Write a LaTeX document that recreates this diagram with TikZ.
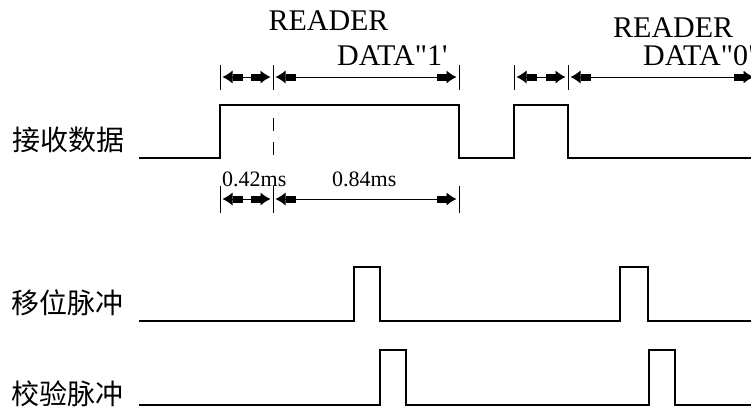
\documentclass[tikz,border=0pt]{standalone}
\usepackage{fontspec}
\setmainfont{Liberation Serif}[Ligatures=TeXOff]
\newfontfamily\cjk{Noto Sans CJK SC}
\usetikzlibrary{arrows.meta}
\begin{document}
\begin{tikzpicture}[x=1pt,y=-1pt,
  sig/.style={line width=1.4pt, line join=miter},
  tick/.style={line width=1pt},
  dimtip/.tip={Rectangle[length=10pt,width=7pt]Latex[length=10pt,width=13pt]},
  dimarr/.style={line width=0.9pt, dimtip-dimtip,
    shorten <=2.5pt, shorten >=2.5pt},
  lbl/.style={inner sep=0pt, anchor=base west, font=\cjk\fontsize{28}{30}\selectfont},
  big/.style={inner sep=0pt, font=\fontsize{30}{34}\selectfont},
  small/.style={inner sep=0pt, anchor=base west, font=\fontsize{22}{24}\selectfont}]
\useasboundingbox (0,0) rectangle (751,408);

% labels
\node[lbl] (l1) at (12,150) {接收数据};
\node[lbl] (l2) at (11,313) {移位脉冲};
\node[lbl] (l3) at (11,404) {校验脉冲};

% top texts
\node[big, anchor=base] (r1) at (328.5,30) {READER};
\node[big, anchor=base west] (d1) at (337,65) {DATA"1'};
\node[big, anchor=base west] (r2) at (613,37) {READER};
\node[big, anchor=base west] (d2) at (643,65) {DATA"0"};

% received data signal
\draw[sig] (139,158) -- (220,158) -- (220,105) -- (459,105) -- (459,158) -- (514,158)
  -- (514,105) -- (568,105) -- (568,158) -- (751,158);
% dashed marker
\draw[line width=1pt, dash pattern=on 13pt off 11pt] (273,118) -- (273,158);

% top dimension row
\foreach \x/\n in {220/ta,273/tb,459/tc,514/td,568/te}{
  \coordinate (\n1) at (\x,65); \coordinate (\n2) at (\x,90);
  \coordinate (\n) at (\x,77);
  \draw[tick] (\n1) -- (\n2);}
\coordinate (tf) at (756,77);
\draw[dimarr] (ta) -- (tb);
\draw[dimarr] (tb) -- (tc);
\draw[dimarr] (td) -- (te);
\draw[dimarr] (te) -- (tf);

% bottom dimension row
\foreach \x/\n in {220/ba,273/bb,459/bc}{
  \coordinate (\n1) at (\x,186); \coordinate (\n2) at (\x,213);
  \coordinate (\n) at (\x,199);
  \draw[tick] (\n1) -- (\n2);}
\draw[dimarr] (ba) -- (bb);
\draw[dimarr] (bb) -- (bc);
\node[small] (m1) at (222,186) {0.42ms};
\node[small] (m2) at (332,186) {0.84ms};

% shift pulse
\draw[sig] (139,321) -- (354,321) -- (354,267) -- (380,267) -- (380,321) -- (620,321)
  -- (620,267) -- (648,267) -- (648,321) -- (751,321);
% check pulse
\draw[sig] (139,405) -- (380,405) -- (380,350) -- (406,350) -- (406,405) -- (649,405)
  -- (649,350) -- (675,350) -- (675,405) -- (751,405);
\end{tikzpicture}
\end{document}
